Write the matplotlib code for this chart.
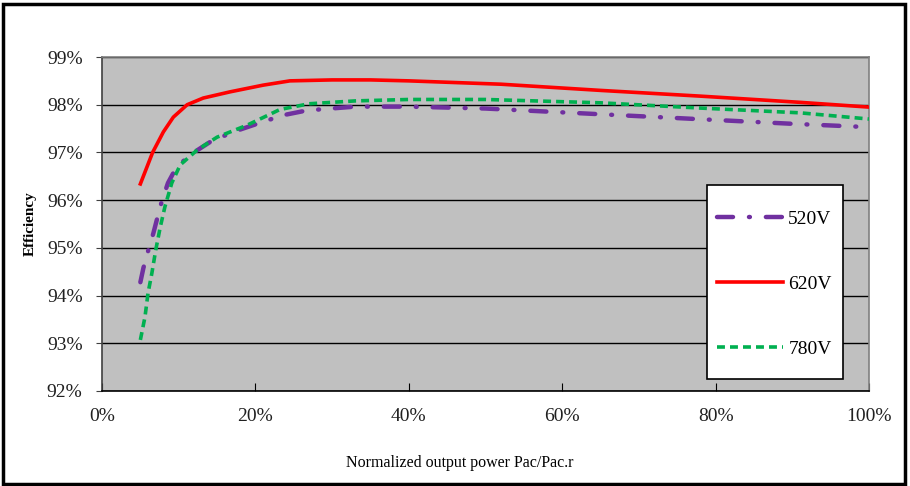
import matplotlib
matplotlib.use("Agg")
import matplotlib.pyplot as plt
from matplotlib.patches import Rectangle
from matplotlib.ticker import FuncFormatter

# Data (x: normalized power %, y: efficiency %)
x520 = [5, 5.4, 6, 6.7, 7.2, 7.8, 8.6, 9.5, 11.2, 14.1, 17.1, 20.6, 23.6, 26.7, 33, 40, 50, 60, 70, 80, 90, 100]
y520 = [94.28, 94.58, 94.93, 95.31, 95.62, 95.98, 96.36, 96.63, 96.92, 97.22, 97.43, 97.62, 97.78, 97.88, 97.96, 97.96, 97.92, 97.84, 97.76, 97.68, 97.6, 97.53]

x620 = [5, 6.6, 8, 9.3, 11.1, 13.2, 16.7, 21, 24.5, 30, 35, 40, 52, 65, 78, 91, 100]
y620 = [96.34, 97.0, 97.43, 97.74, 98.0, 98.14, 98.27, 98.41, 98.5, 98.52, 98.52, 98.5, 98.43, 98.3, 98.18, 98.05, 97.95]

x780 = [5, 5.6, 6, 6.5, 7, 7.6, 8.2, 9.1, 10.2, 12.4, 15, 18.9, 23.2, 27, 33, 40, 50, 65, 78, 91, 100]
y780 = [93.07, 93.55, 94.05, 94.47, 94.95, 95.44, 95.86, 96.36, 96.74, 97.05, 97.32, 97.57, 97.9, 98.02, 98.08, 98.11, 98.11, 98.04, 97.93, 97.83, 97.7]

xticks = [0, 20, 40, 60, 80, 100]
yticks = [92, 93, 94, 95, 96, 97, 98, 99]

serif = ["Liberation Serif", "DejaVu Serif"]

fig = plt.figure(figsize=(9.1, 4.86), dpi=100)
ax = fig.add_axes([0.1121, 0.1955, 0.8429, 0.6872])
ax.set_facecolor("#C0C0C0")

ax.plot(x520, y520, color="#7030A0", lw=3.2, dashes=(3.6, 3.6, 0.2, 3.6), dash_capstyle="round",
        solid_capstyle="round", label="520V", zorder=3)
ax.plot(x620, y620, color="#FF0000", lw=2.6, label="620V", zorder=4)
ax.plot(x780, y780, color="#00B050", lw=2.6, dashes=(2.2, 1.4), label="780V", zorder=3)

ax.set_xlim(0, 100)
ax.set_ylim(92, 99)
ax.set_xticks(xticks)
ax.set_yticks(yticks)
ax.xaxis.set_major_formatter(FuncFormatter(lambda v, p: f"{v:.0f}%"))
ax.yaxis.set_major_formatter(FuncFormatter(lambda v, p: f"{v:.0f}%"))
ax.grid(axis="y", color="black", lw=1.0, zorder=1)
ax.set_axisbelow(True)

ax.tick_params(axis="x", direction="in", length=6, pad=12, labelsize=14, color="black")
ax.tick_params(axis="y", direction="out", length=4, pad=10, labelsize=14, color="#404040")
for lab in ax.get_xticklabels() + ax.get_yticklabels():
    lab.set_fontfamily(serif)
    lab.set_color("#202020")

ax.spines["left"].set_color("#404040")
ax.spines["bottom"].set_color("black")
ax.spines["top"].set_color("#808080")
ax.spines["right"].set_color("#808080")
for s in ax.spines.values():
    s.set_linewidth(1.2)

ax.set_ylabel("Efficiency", fontfamily=serif, fontsize=11, fontweight="bold", labelpad=14)
ax.yaxis.set_label_coords(-0.085, 0.5)
fig.text(0.505, 0.048, "Normalized output power Pac/Pac.r", fontfamily=serif, fontsize=11.5,
         ha="center", va="center")

# legend box
ax.add_patch(Rectangle((0.789, 0.036), 0.177, 0.581, transform=ax.transAxes,
                       facecolor="white", edgecolor="black", lw=1.2, zorder=5))
leg = ax.legend(loc="upper left", bbox_to_anchor=(0.802, 0.542), frameon=False,
                labelspacing=2.45, handlelength=3.4, handletextpad=0.26, borderpad=0,
                borderaxespad=0, prop={"family": serif, "size": 14})
leg.set_zorder(6)

fig.patches.append(Rectangle((0.003, 0.004), 0.992, 0.988, transform=fig.transFigure,
                             fill=False, edgecolor="black", lw=2.5))

fig.savefig("out.png", dpi=100)
